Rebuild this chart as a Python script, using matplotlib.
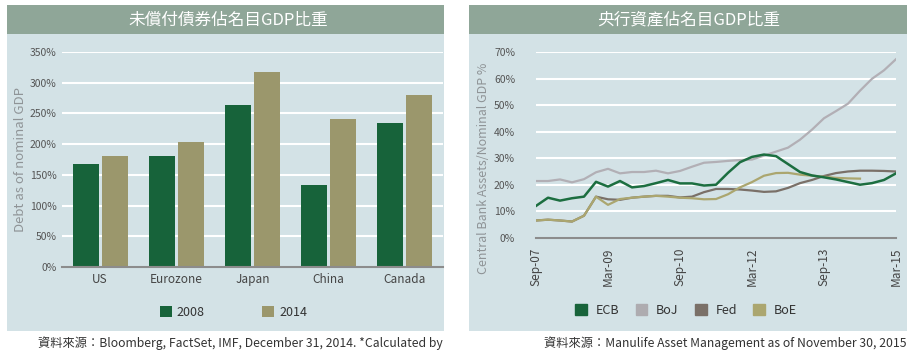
import numpy as np
import matplotlib
matplotlib.use('Agg')
import matplotlib.pyplot as plt
from matplotlib.patches import Rectangle, Patch

plt.rcParams['font.family'] = ['Noto Sans CJK TC', 'DejaVu Sans']

# ---- left chart data (debt / nominal GDP, %)
countries = ['US', 'Eurozone', 'Japan', 'China', 'Canada']
debt_2008 = [168, 180, 263, 133, 235]
debt_2014 = [181, 204, 318, 241, 280]

# ---- right chart data (central bank assets / nominal GDP, %), quarterly from Sep-07
date_ticks = ['Sep-07', 'Mar-09', 'Sep-10', 'Mar-12', 'Sep-13', 'Mar-15']
ecb = [12.0, 15.1, 14.0, 14.9, 15.5, 21.1, 19.3, 21.4, 19.0, 19.5, 20.6, 21.8, 20.5, 20.5,
       19.7, 20.0, 24.5, 28.5, 30.5, 31.4, 30.8, 27.8, 24.8, 23.5, 22.8, 22.0, 21.0, 20.0,
       20.6, 21.8, 24.3]
boj = [21.4, 21.4, 22.0, 20.9, 22.1, 24.7, 26.0, 24.3, 24.8, 24.8, 25.3, 24.3, 25.2, 26.8,
       28.3, 28.6, 29.0, 29.3, 29.5, 31.0, 32.5, 34.0, 37.0, 40.8, 45.1, 47.8, 50.6, 55.5,
       60.0, 63.2, 67.4]
fed = [6.5, 6.8, 6.5, 6.1, 8.3, 15.5, 14.5, 14.3, 15.1, 15.5, 15.8, 15.8, 15.2, 15.5,
       17.2, 18.4, 18.4, 18.2, 17.8, 17.3, 17.5, 18.8, 20.6, 21.8, 23.3, 24.4, 25.0, 25.3,
       25.3, 25.2, 25.0]
boe = [6.5, 6.8, 6.5, 6.1, 8.3, 15.5, 12.4, 14.6, 15.1, 15.5, 15.8, 15.5, 15.1, 14.9,
       14.5, 14.6, 16.4, 19.0, 21.0, 23.4, 24.4, 24.5, 23.8, 23.4, 23.0, 22.6, 22.4, 22.3]

GREEN = '#17633a'
KHAKI = '#9b976c'
PANEL = '#d3e2e6'
BAND = '#8fa698'
W, H = 915, 359

fig = plt.figure(figsize=(9.15, 3.59), dpi=100, facecolor='white')


def box(x0, y0, x1, y1, color):
    # pixel box (top-left origin) -> figure rectangle
    fig.add_artist(Rectangle((x0 / W, 1 - y1 / H), (x1 - x0) / W, (y1 - y0) / H,
                             transform=fig.transFigure, color=color, zorder=0, lw=0))


# panels + title bands
box(7, 5, 444, 331, PANEL)
box(7, 5, 444, 34, BAND)
box(469, 5, 907, 331, PANEL)
box(469, 5, 907, 34, BAND)
fig.text(228 / W, 1 - 20 / H, '未償付債券佔名目GDP比重', color='white', fontsize=12,
         ha='center', va='center')
fig.text(689 / W, 1 - 20 / H, '央行資產佔名目GDP比重', color='white', fontsize=12,
         ha='center', va='center')

# ---------------- left: bars
ax1 = fig.add_axes([62 / W, 1 - 267 / H, (443 - 62) / W, (267 - 52) / H])
ax1.set_facecolor('none')
x = np.arange(len(countries))
ax1.bar(x - 0.19, debt_2008, width=0.34, color=GREEN, zorder=3, label='2008')
ax1.bar(x + 0.19, debt_2014, width=0.34, color=KHAKI, zorder=3, label='2014')
ax1.set_xlim(-0.5, 4.5)
ax1.set_ylim(0, 350)
ax1.set_yticks(np.arange(0, 351, 50))
ax1.set_yticklabels(['%d%%' % v for v in range(0, 351, 50)])
ax1.set_xticks(x)
ax1.set_xticklabels(countries)
ax1.yaxis.grid(True, color='white', lw=1.5, zorder=0)
for s in ['top', 'right', 'left']:
    ax1.spines[s].set_visible(False)
ax1.spines['bottom'].set_color('#8c8c8c')
ax1.spines['bottom'].set_linewidth(1.5)
ax1.spines['bottom'].set_zorder(4)
ax1.tick_params(axis='y', length=0, labelsize=7.5, labelcolor='#555555', pad=4)
ax1.tick_params(axis='x', length=0, labelsize=8.5, labelcolor='#444444', pad=4)
ax1.set_ylabel('Debt as of nominal GDP', fontsize=9.5, color='#8f9497', va='center')
ax1.yaxis.set_label_coords(-0.11, 0.5)
ax1.legend(loc='center', bbox_to_anchor=(233.5 / W, 1 - 312 / H),
           bbox_transform=fig.transFigure, ncol=2, frameon=False, fontsize=9,
           handlelength=0.95, handleheight=0.95, handletextpad=0.4, columnspacing=4.6,
           labelcolor='#333333')

# ---------------- right: lines
months = np.arange(0, 91, 3)
ax2 = fig.add_axes([536 / W, 1 - 237.7 / H, (896 - 536) / W, (237.7 - 52.3) / H])
ax2.set_facecolor('none')
ax2.plot(months, boj, color='#b2afb5', lw=1.6, zorder=3)
ax2.plot(months, fed, color='#7a7068', lw=1.6, zorder=3)
ax2.plot(months[:len(boe)], boe, color='#aba66f', lw=1.6, zorder=3)
ax2.plot(months, ecb, color='#1c6e40', lw=1.8, zorder=4)
ax2.set_xlim(0, 90)
ax2.set_ylim(0, 70)
ax2.set_yticks(np.arange(0, 71, 10))
ax2.set_yticklabels(['%d%%' % v for v in range(0, 71, 10)])
ax2.set_xticks(np.arange(0, 91, 18))
ax2.set_xticklabels(date_ticks, rotation=90)
ax2.yaxis.grid(True, color='white', lw=1.5, zorder=0)
for s in ['top', 'right', 'left']:
    ax2.spines[s].set_visible(False)
ax2.spines['bottom'].set_color('#8c8c8c')
ax2.spines['bottom'].set_linewidth(1.5)
ax2.tick_params(axis='y', length=0, labelsize=7.5, labelcolor='#555555', pad=15)
ax2.tick_params(axis='x', length=0, labelsize=8.5, labelcolor='#444444', pad=7)
ax2.set_ylabel('Central Bank Assets/Nominal GDP %', fontsize=9, color='#8f9497', va='center')
ax2.yaxis.set_label_coords(-0.147, 0.376)
handles = [Patch(color='#17633a', label='ECB'), Patch(color='#aeacb0', label='BoJ'),
           Patch(color='#7a7068', label='Fed'), Patch(color='#aba66f', label='BoE')]
ax2.legend(handles=handles, loc='center', bbox_to_anchor=(686 / W, 1 - 310 / H),
           bbox_transform=fig.transFigure, ncol=4, frameon=False, fontsize=9,
           handlelength=0.95, handleheight=0.95, handletextpad=0.7, columnspacing=1.3,
           labelcolor='#333333')

# sources
fig.text(443 / W, 1 - 343 / H, '資料來源：Bloomberg, FactSet, IMF, December 31, 2014. *Calculated by',
         fontsize=8.8, color='#333333', ha='right', va='center')
fig.text(907 / W, 1 - 343 / H, '資料來源：Manulife Asset Management as of November 30, 2015',
         fontsize=8.8, color='#333333', ha='right', va='center')

fig.savefig('out.png', dpi=100, facecolor='white')
